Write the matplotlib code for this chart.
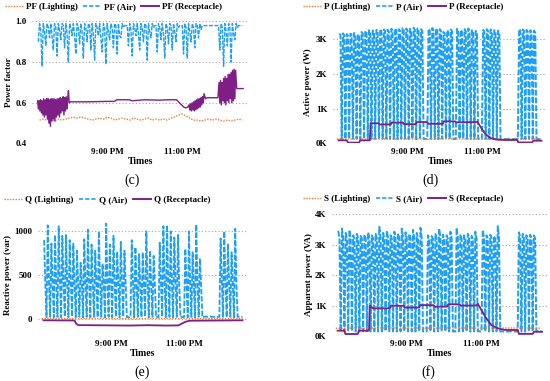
import numpy as np
import matplotlib
matplotlib.use('Agg')
import matplotlib.pyplot as plt
from matplotlib.lines import Line2D

plt.rcParams['font.family'] = ['Liberation Serif', 'DejaVu Serif']
plt.rcParams['font.weight'] = 'bold'

C_LIGHT = '#ED7D31'
C_AIR = '#1E9FF2'
C_REC = '#7E1F86'

# ---------------- Air-conditioner series (2-minute samples from 7:10 PM) ----------------
air_start_h = 19 + 10 / 60
air_step_min = 2

p_air = [
    3150, 3120, 130, 3160, 3110, 125, 3140, 3100, 130, 3150, 3120, 135, 3170, 3130, 130,
    3130, 3090, 125, 3200, 3150, 130, 3230, 3180, 135, 3250, 3190, 130, 3240, 3200, 130,
    3260, 3210, 125, 3280, 3220, 130, 3270, 3230, 135, 3260, 3210, 130, 3290, 3240, 130,
    3300, 3250, 125, 3280, 3230, 130, 3310, 3260, 135, 3300, 3240, 130, 3290, 3230, 130,
    3320, 3260, 125, 3300, 3250, 130, 3280, 3220, 130,
    130, 135, 130,
    3290, 3240, 130, 3310, 3250, 125, 3300, 3240, 130, 3280, 3230, 135, 3200, 3150, 130,
    3250, 3200, 130, 3270, 3210, 125,
    130, 130,
    3290, 3230, 130, 3260, 3200, 135, 3280, 3220, 130, 3300, 3240, 125, 3250, 3190, 130,
    3230, 3180, 130,
    135, 130, 130,
    3260, 3200, 130, 3280, 3220, 125, 3270, 3210, 130, 3250, 3190, 135, 3240, 3180, 130,
    130, 135, 130, 130, 125, 130, 135, 130, 130, 125, 130, 135, 130, 130,
    3280, 3230, 130, 3270, 3220, 125, 3260, 3200, 130, 3250, 3190, 135, 3240, 3180, 130,
    130, 125, 130, 130]

q_air = [
    900, 400, 15, 1070, 410, 20, 860, 390, 15, 960, 400, 20, 1060, 410, 15,
    950, 395, 20, 960, 405, 15, 900, 400, 20, 860, 390, 15, 780, 400, 20,
    640, 395, 15, 910, 405, 20, 1020, 400, 15, 850, 395, 20, 780, 410, 15,
    1000, 400, 20, 630, 395, 15, 1090, 410, 20, 850, 400, 15, 950, 405, 20,
    770, 420, 15, 880, 410, 20, 780, 400, 15,
    20, 15, 20,
    900, 410, 15, 820, 400, 20, 740, 395, 15, 760, 400, 20, 1000, 405, 15,
    780, 395, 20, 720, 400, 15,
    20, 15,
    870, 405, 20, 1060, 410, 15, 1070, 400, 20, 1000, 395, 15, 930, 405, 20,
    960, 400, 15,
    20, 15, 20,
    800, 410, 15, 1000, 400, 20, 760, 395, 15, 1080, 405, 20, 690, 400, 15,
    20, 20, 25, 20, 20, 20, 25, 20, 20, 20, 25, 20, 20, 20,
    920, 420, 20, 1000, 410, 15, 860, 400, 20, 760, 410, 15, 1030, 400, 20,
    20, 20, 20, 20]

s_air = [
    3450, 3200, 150, 3520, 3210, 145, 3380, 3190, 150, 3480, 3200, 155, 3300, 3180, 150,
    3350, 3190, 145, 3280, 3200, 150, 3320, 3210, 155, 3400, 3220, 150, 3300, 3200, 150,
    3350, 3210, 145, 3580, 3220, 150, 3380, 3210, 155, 3450, 3220, 150, 3300, 3200, 150,
    3420, 3230, 145, 3360, 3210, 150, 3520, 3220, 155, 3400, 3210, 150, 3350, 3200, 150,
    3480, 3220, 145, 3380, 3210, 150, 3550, 3220, 150,
    150, 155, 150,
    3300, 3200, 150, 3280, 3190, 145, 3350, 3200, 150, 3520, 3210, 155, 3320, 3200, 150,
    3300, 3190, 150, 3420, 3210, 145,
    150, 150,
    3550, 3220, 150, 3330, 3200, 155, 3300, 3190, 150, 3350, 3210, 145, 3280, 3200, 150,
    3420, 3210, 150,
    155, 150, 150,
    3480, 3220, 150, 3300, 3200, 145, 3320, 3210, 150, 3280, 3190, 155, 3600, 3230, 150,
    150, 150, 155, 150, 150, 145, 150, 150, 155, 150, 150, 145, 150, 150,
    3400, 3230, 150, 3350, 3210, 145, 3300, 3200, 150, 3320, 3210, 155, 3300, 3200, 150,
    150, 150, 145, 150]

pf_air = [
    0.90, 0.99, 0.96, 0.78, 0.99, 0.95, 0.88, 0.99, 0.97, 0.92, 0.99, 0.93, 0.86, 0.99, 0.97,
    0.83, 0.99, 0.96, 0.91, 0.99, 0.98, 0.87, 0.99, 0.94, 0.80, 0.99, 0.97, 0.93, 0.99, 0.93,
    0.84, 0.99, 0.97, 0.89, 0.99, 0.95, 0.82, 0.99, 0.97, 0.90, 0.99, 0.98, 0.86, 0.99, 0.94,
    0.81, 0.99, 0.97, 0.93, 0.99, 0.92, 0.85, 0.99, 0.97, 0.79, 0.99, 0.95, 0.91, 0.99, 0.97,
    0.87, 0.99, 0.98, 0.84, 0.99, 0.93, 0.92, 0.99, 0.97,
    0.98, 0.98, 0.98,
    0.88, 0.99, 0.96, 0.83, 0.99, 0.97, 0.93, 0.99, 0.94, 0.86, 0.99, 0.97, 0.90, 0.99, 0.98,
    0.81, 0.99, 0.95, 0.92, 0.99, 0.97,
    0.98, 0.98,
    0.85, 0.99, 0.97, 0.91, 0.99, 0.94, 0.82, 0.99, 0.97, 0.89, 0.99, 0.98, 0.86, 0.99, 0.95,
    0.90, 0.99, 0.97,
    0.98, 0.98, 0.98,
    0.84, 0.99, 0.97, 0.82, 0.99, 0.95, 0.90, 0.99, 0.97, 0.87, 0.99, 0.98, 0.92, 0.99, 0.96,
    0.98, 0.98, 0.98, 0.98, 0.98, 0.98, 0.98, 0.98, 0.98, 0.98, 0.98, 0.98, 0.98, 0.98,
    0.86, 0.99, 0.97, 0.78, 0.99, 0.95, 0.88, 0.99, 0.97, 0.80, 0.99, 0.94, 0.91, 0.99, 0.97,
    0.98, 0.98, 0.98, 0.98]

assert len(p_air) == len(q_air) == len(s_air) == len(pf_air)
t_air = air_start_h + np.arange(len(p_air)) * air_step_min / 60

# ---------------- Lighting series ----------------
pf_light = [0.515, 0.52, 0.515, 0.52, 0.51, 0.52, 0.515, 0.52, 0.525, 0.53,
            0.525, 0.53, 0.525, 0.52, 0.515, 0.52, 0.525, 0.52, 0.53, 0.525,
            0.515, 0.52, 0.525, 0.52, 0.515, 0.525, 0.52, 0.515, 0.52, 0.525,
            0.515, 0.52, 0.515, 0.52, 0.515, 0.525, 0.53, 0.54, 0.545, 0.535,
            0.525, 0.515, 0.515, 0.51, 0.515, 0.52, 0.515, 0.52, 0.515, 0.51,
            0.515, 0.51, 0.515, 0.52, 0.515]
t_pf_light = np.linspace(19.2, 24.6, len(pf_light))

p_light = [130, 128, 132, 130, 131, 129, 133, 130, 128, 131, 130, 129]
q_light = [0, 3, -2, 2, 0, -3, 2, 0, 3, -2, 0, 2]
s_light = [255, 260, 258, 262, 260, 257, 263, 260, 258, 261, 260, 258]
t_light = np.linspace(19.1, 24.6, len(p_light))

# ---------------- Receptacle series ----------------
t_pf_rec = [19.15, 19.17, 19.19, 19.21, 19.23, 19.25, 19.27, 19.29, 19.31, 19.33,
            19.35, 19.37, 19.39, 19.41, 19.43, 19.45, 19.47, 19.49, 19.51, 19.53,
            19.55, 19.57, 19.59, 19.61, 19.63, 19.65, 19.67, 19.69, 19.71, 19.73,
            19.75, 19.77, 19.79, 19.81, 19.83, 19.85, 19.87, 19.89, 19.91, 19.93,
            19.95,
            19.97, 19.99, 20.02, 20.5, 21.0, 21.2, 21.25, 21.6, 21.65, 21.8,
            22.0, 22.4, 22.6, 22.85, 22.95, 23.05, 23.1, 23.15,
            23.18, 23.20, 23.22, 23.24, 23.26, 23.28, 23.30, 23.32, 23.34, 23.36,
            23.38, 23.40, 23.42, 23.44, 23.46, 23.48, 23.50, 23.52, 23.54, 23.56,
            23.58,
            23.62, 23.66, 23.95,
            23.98, 24.00, 24.02, 24.04, 24.06, 24.08, 24.10, 24.12, 24.14, 24.16,
            24.18, 24.20, 24.22, 24.24, 24.26, 24.28, 24.30, 24.32, 24.34, 24.36,
            24.38, 24.40, 24.42,
            24.45, 24.62]
pf_rec = [0.61, 0.57, 0.61, 0.56, 0.615, 0.55, 0.61, 0.54, 0.62, 0.53,
          0.615, 0.54, 0.62, 0.52, 0.62, 0.50, 0.615, 0.485, 0.62, 0.51,
          0.62, 0.52, 0.62, 0.51, 0.615, 0.53, 0.62, 0.54, 0.62, 0.53,
          0.625, 0.55, 0.62, 0.56, 0.63, 0.54, 0.625, 0.56, 0.63, 0.57,
          0.62,
          0.66, 0.60, 0.605, 0.605, 0.607, 0.607, 0.615, 0.615, 0.61, 0.612,
          0.615, 0.613, 0.615, 0.615, 0.595, 0.578, 0.575, 0.58,
          0.59, 0.565, 0.595, 0.56, 0.60, 0.565, 0.605, 0.56, 0.61, 0.565,
          0.615, 0.57, 0.62, 0.575, 0.62, 0.58, 0.625, 0.59, 0.63, 0.60,
          0.645,
          0.62, 0.625, 0.625,
          0.70, 0.60, 0.71, 0.59, 0.70, 0.61, 0.72, 0.60, 0.73, 0.59,
          0.72, 0.61, 0.74, 0.60, 0.74, 0.62, 0.75, 0.60, 0.76, 0.61,
          0.765, 0.62, 0.76,
          0.67, 0.67]

t_p_rec = [19.15, 19.37, 19.40, 19.70, 19.73, 19.99, 20.01, 20.22, 20.25, 20.55,
           20.58, 20.88, 20.91, 21.22, 21.25, 21.53, 21.56, 21.95, 21.98, 22.28,
           22.31, 22.85, 22.88, 22.95, 23.05, 23.15, 23.25, 23.40, 23.60, 23.95,
           23.98, 24.35, 24.38, 24.60]
p_rec = [90, 90, 25, 25, 90, 90, 580, 580, 545, 545,
         600, 600, 555, 555, 615, 615, 565, 565, 635, 635,
         605, 615, 620, 500, 330, 220, 150, 110, 100, 100,
         30, 30, 80, 80]

t_q_rec = [19.15, 20.0, 20.05, 20.1, 21.0, 21.5, 22.0, 22.5, 22.85, 22.95, 23.05, 23.15, 24.0, 24.6]
q_rec = [-20, -22, -60, -75, -78, -80, -76, -80, -78, -55, -35, -25, -22, -20]

t_s_rec = [19.15, 19.33, 19.36, 19.69, 19.72, 19.99, 20.01, 20.05, 20.1, 20.55,
           20.58, 20.92, 20.95, 21.33, 21.36, 21.72, 21.75, 22.08, 22.11, 22.42,
           22.45, 22.86, 22.9, 22.95, 23.1, 23.26, 23.44, 23.62, 23.97, 24.0,
           24.37, 24.4, 24.62]
s_rec = [175, 175, 65, 65, 175, 175, 995, 950, 905, 910,
         995, 990, 930, 935, 1015, 1010, 960, 965, 1040, 1035,
         995, 1000, 1060, 950, 630, 360, 250, 200, 195, 70,
         70, 140, 140]

x_ticks = [21, 23]
x_ticklabels = ['9:00 PM', '11:00 PM']

fig = plt.figure(figsize=(5.5, 3.81), dpi=100)

FS = 6.5
AIR_LS = (0, (3.0, 1.0))
LIGHT_LS = (0, (1, 1))


def panel(rect, ylim, yticks, yticklabels, ylabel, ylab_x,
          tl, vl, ta, va, tr, vr, names, leg_xy, caption, cap_xy, air_lw, rec_lw):
    ax = fig.add_axes(rect)
    ax.plot(ta, va, color=C_AIR, lw=air_lw, ls=AIR_LS, zorder=2)
    ax.plot(tl, vl, color=C_LIGHT, lw=1.0, ls=LIGHT_LS, zorder=3)
    ax.plot(tr, vr, color=C_REC, lw=rec_lw, zorder=4)
    ax.set_xlim(19.0, 24.75)
    ax.set_ylim(*ylim)
    ax.set_yticks(yticks)
    ax.set_yticklabels(yticklabels, fontsize=FS, fontweight='bold')
    ax.set_xticks(x_ticks)
    ax.set_xticklabels(x_ticklabels, fontsize=FS, fontweight='bold')
    ax.tick_params(axis='both', length=0)
    ax.tick_params(axis='y', pad=4)
    ax.tick_params(axis='x', pad=3)
    for s in ax.spines.values():
        s.set_visible(False)
    ax.yaxis.grid(True, color='#A6A6A6', ls=(0, (1, 2)), lw=0.8)
    ax.set_axisbelow(True)
    ax.set_ylabel(ylabel, fontsize=FS, fontweight='bold')
    ax.yaxis.set_label_coords(ylab_x, 0.5)
    ax.set_xlabel('Times', fontsize=7, fontweight='bold')
    ax.xaxis.set_label_coords(0.5, -0.11)
    handles = [Line2D([], [], color=C_LIGHT, lw=1.0, ls=LIGHT_LS),
               Line2D([], [], color=C_AIR, lw=1.2, ls=(0, (2.5, 1.2))),
               Line2D([], [], color=C_REC, lw=1.4)]
    fig.legend(handles, names, loc='center', bbox_to_anchor=leg_xy, ncol=3,
               frameon=False, prop={'size': 6.5, 'weight': 'bold'},
               handlelength=2.0, handletextpad=0.3, columnspacing=0.6,
               borderpad=0.1)
    fig.text(cap_xy[0], cap_xy[1], caption, fontsize=10, fontweight='normal',
             ha='center', va='center')
    return ax


row1_b, row2_b, hgt = 0.6234, 0.1181, 0.3202

panel([0.0582, row1_b, 0.3927, hgt], (0.4, 1.0), [0.4, 0.6, 0.8, 1.0],
      ['0.4', '0.6', '0.8', '1.0'], 'Power factor', -0.09,
      t_pf_light, pf_light, t_air, pf_air, t_pf_rec, pf_rec,
      ['PF (Lighting)', 'PF (Air)', 'PF (Receptacle)'], (0.206, 0.982),
      '(c)', (0.240, 0.527), 1.0, 1.0)

panel([0.6055, row1_b, 0.3891, hgt], (0, 3500), [0, 1000, 2000, 3000],
      ['0K', '1K', '2K', '3K'], 'Active power (W)', -0.096,
      t_light, p_light, t_air, p_air, t_p_rec, p_rec,
      ['P (Lighting)', 'P (Air)', 'P (Receptacle)'], (0.733, 0.982),
      '(d)', (0.782, 0.527), 1.4, 1.3)

panel([0.0691, row2_b, 0.3818, hgt], (-200, 1200), [0, 500, 1000],
      ['0', '500', '1000'], 'Reactive power (var)', -0.126,
      t_light, q_light, t_air, q_air, t_q_rec, q_rec,
      ['Q (Lighting)', 'Q (Air)', 'Q (Receptacle)'], (0.195, 0.475),
      '(e)', (0.259, 0.022), 1.3, 1.3)

panel([0.6036, row2_b, 0.3909, hgt], (0, 4000), [0, 1000, 2000, 3000, 4000],
      ['0K', '1K', '2K', '3K', '4K'], 'Apparent power (VA)', -0.09,
      t_light, s_light, t_air, s_air, t_s_rec, s_rec,
      ['S (Lighting)', 'S (Air)', 'S (Receptacle)'], (0.733, 0.478),
      '(f)', (0.778, 0.024), 1.4, 1.3)

fig.savefig('out.png', dpi=100)
